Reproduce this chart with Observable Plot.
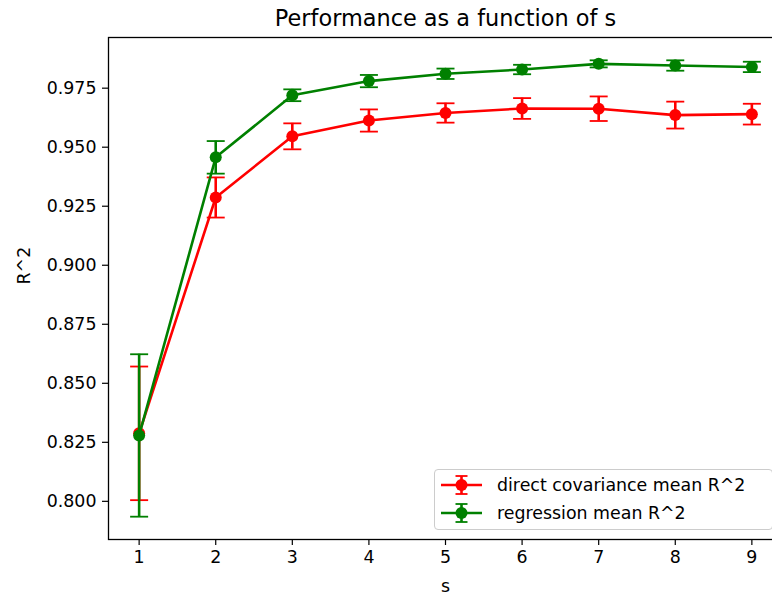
<!DOCTYPE html>
<html>
<head>
<meta charset="utf-8">
<script src="https://cdn.jsdelivr.net/npm/d3@7"></script>
<script src="https://cdn.jsdelivr.net/npm/@observablehq/plot@0.6"></script>
<style>
  html, body { margin: 0; padding: 0; background: #fff; }
  #wrap { position: relative; width: 772px; height: 598px; overflow: hidden; font-family: "DejaVu Sans", sans-serif; }
  #wrap > svg { max-width: none !important; width: 800px; height: 598px; display: block; }
  #legend {
    position: absolute; left: 434px; top: 469px; width: 339px; height: 61px;
    box-sizing: border-box; border: 1px solid #cccccc; border-radius: 4px;
    background: rgba(255,255,255,0.8);
    font-size: 17.4px; color: #000;
  }
  .row { position: absolute; left: 0; height: 26px; display: flex; align-items: center; white-space: nowrap; }
  .row svg { display: block; margin-left: 6px; margin-right: 15px; }
</style>
</head>
<body>
<div id="wrap"></div>
<script>
// s values and the two series (mean R^2 with error half-widths)
const sValues = [1, 2, 3, 4, 5, 6, 7, 8, 9];
const directMean = [0.8288, 0.9287, 0.9546, 0.9613, 0.9645, 0.9664, 0.9663, 0.9636, 0.9640];
const directErr  = [0.0283, 0.0085, 0.0055, 0.0047, 0.0041, 0.0044, 0.0052, 0.0057, 0.0044];
const regMean    = [0.8279, 0.9457, 0.9720, 0.9780, 0.9811, 0.9829, 0.9853, 0.9846, 0.9840];
const regErr     = [0.0344, 0.0069, 0.0025, 0.0026, 0.0022, 0.0020, 0.0015, 0.0022, 0.0022];
const yTicks = [0.800, 0.825, 0.850, 0.875, 0.900, 0.925, 0.950, 0.975];
const seriesNames = ["direct covariance mean R^2", "regression mean R^2"];
const seriesColors = ["#ff0000", "#008000"];

const toRows = (means, errs) => sValues.map((s, i) => ({s, m: means[i], lo: means[i] - errs[i], hi: means[i] + errs[i]}));
const direct = toRows(directMean, directErr);
const regression = toRows(regMean, regErr);

// autoscale with a 5% margin on each side
const all = direct.concat(regression);
const yMin = d3.min(all, d => d.lo), yMax = d3.max(all, d => d.hi);
const yPad = (yMax - yMin) * 0.05;
const xPad = (d3.max(sValues) - d3.min(sValues)) * 0.05;

// horizontal cap symbol for error bars (half-width = r)
const capSymbol = {
  draw(ctx, size) {
    const w = Math.sqrt(size / Math.PI);
    ctx.moveTo(-w, 0);
    ctx.lineTo(w, 0);
  }
};

function seriesMarks(rows, color) {
  return [
    Plot.line(rows, {x: "s", y: "m", stroke: color, strokeWidth: 2.6}),
    Plot.ruleX(rows, {x: "s", y1: "lo", y2: "hi", stroke: color, strokeWidth: 2.6}),
    Plot.dot(rows, {x: "s", y: "hi", symbol: capSymbol, r: 9, stroke: color, strokeWidth: 1.8, fill: "none"}),
    Plot.dot(rows, {x: "s", y: "lo", symbol: capSymbol, r: 9, stroke: color, strokeWidth: 1.8, fill: "none"}),
    Plot.dot(rows, {x: "s", y: "m", r: 6, fill: color, stroke: "none"})
  ];
}

const chart = Plot.plot({
  width: 800,
  height: 598,
  marginLeft: 108,
  marginRight: 18,
  marginTop: 37,
  marginBottom: 59,
  style: {fontFamily: "DejaVu Sans", fontSize: "17.4px", color: "#000", background: "#fff"},
  x: {domain: [d3.min(sValues) - xPad, d3.max(sValues) + xPad]},
  y: {domain: [yMin - yPad, yMax + yPad]},
  marks: [
    Plot.axisX({ticks: sValues, tickFormat: d3.format("d"), tickSize: 6, tickPadding: 5, label: null, strokeWidth: 1.2}),
    Plot.axisY({ticks: yTicks, tickFormat: d3.format(".3f"), tickSize: 6, tickPadding: 6, label: null, strokeWidth: 1.2}),
    ...seriesMarks(direct, seriesColors[0]),
    ...seriesMarks(regression, seriesColors[1]),
    Plot.frame({stroke: "#000", strokeWidth: 1.3}),
    Plot.text(["Performance as a function of s"], {frameAnchor: "top", lineAnchor: "bottom", dy: -12, fontSize: 22.4}),
    Plot.text(["R^2"], {frameAnchor: "left", rotate: -90, dx: -84, dy: -4, fontSize: 17.4}),
    Plot.text(["s"], {frameAnchor: "bottom", lineAnchor: "bottom", dy: 52, fontSize: 17.4})
  ]
});

const wrap = document.getElementById("wrap");
wrap.appendChild(chart);

// legend
const legend = document.createElement("div");
legend.id = "legend";
seriesNames.forEach((name, i) => {
  const row = document.createElement("div");
  row.className = "row";
  row.style.top = (2 + i * 27.5) + "px";
  const c = seriesColors[i];
  row.innerHTML =
    `<svg width="41" height="26" viewBox="0 0 41 26">
       <line x1="0" y1="13" x2="41" y2="13" stroke="${c}" stroke-width="2.6"/>
       <line x1="20.5" y1="4" x2="20.5" y2="22" stroke="${c}" stroke-width="2.6"/>
       <line x1="14.5" y1="4" x2="26.5" y2="4" stroke="${c}" stroke-width="1.8"/>
       <line x1="14.5" y1="22" x2="26.5" y2="22" stroke="${c}" stroke-width="1.8"/>
       <circle cx="20.5" cy="13" r="6" fill="${c}"/>
     </svg><span>${name}</span>`;
  legend.appendChild(row);
});
wrap.appendChild(legend);
</script>
</body>
</html>
